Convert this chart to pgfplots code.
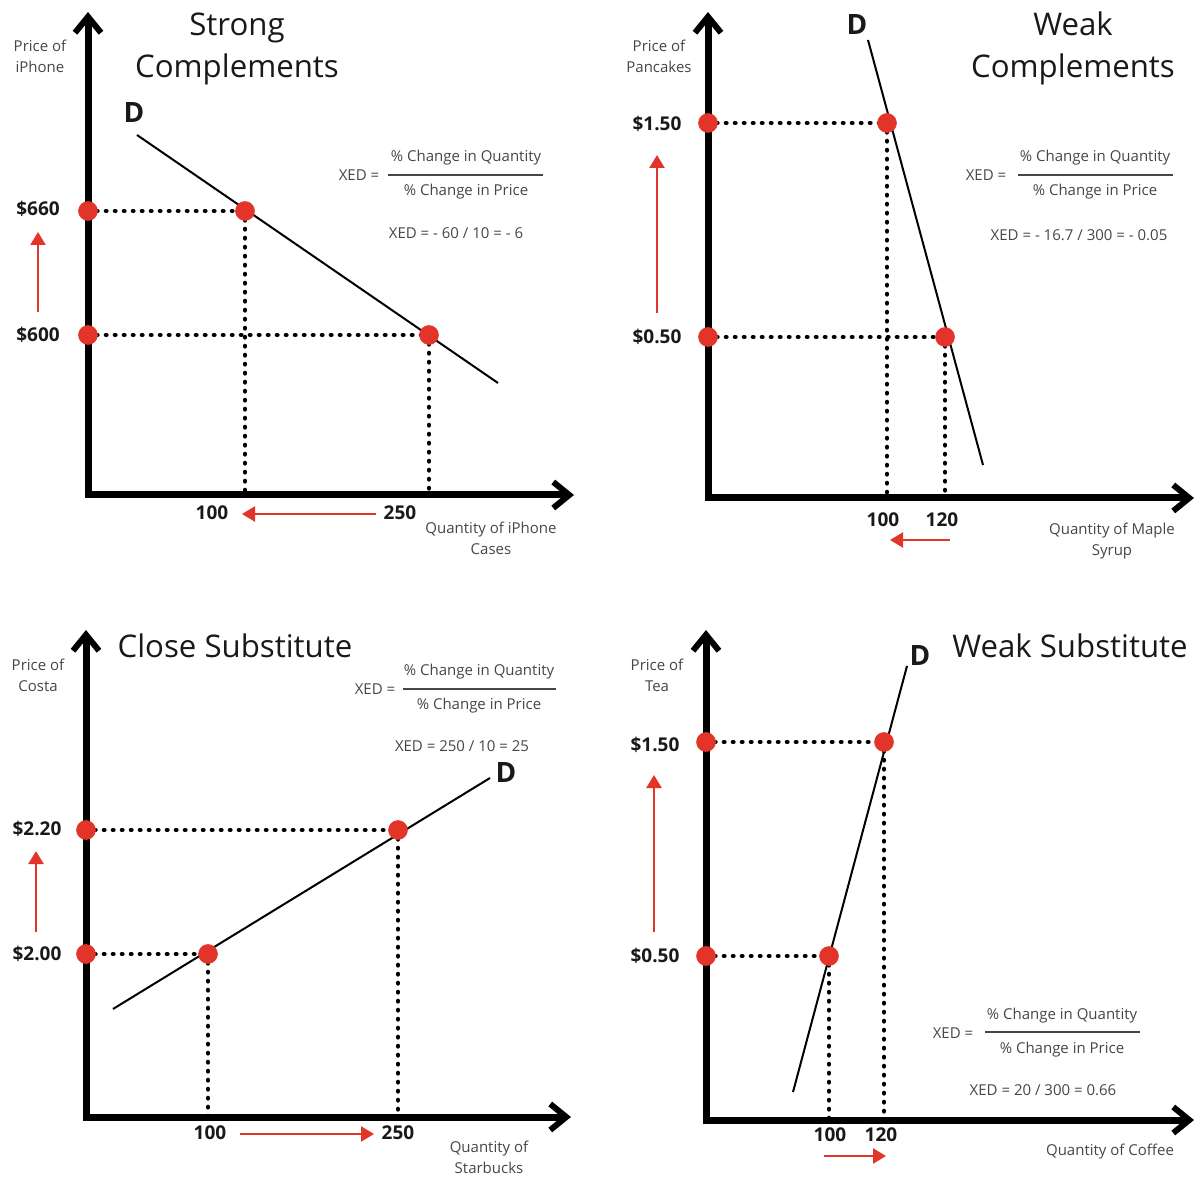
\documentclass[border=0pt]{standalone}
\usepackage{pgfplots}
\pgfplotsset{compat=1.18}
\usetikzlibrary{arrows.meta}
\usepackage{fontspec}
\setmainfont{Open Sans}
\definecolor{xred}{RGB}{227,52,42}
\definecolor{tgray}{RGB}{70,70,70}
\definecolor{tblack}{RGB}{25,25,25}
\newcommand\ttl{\fontsize{15.6}{21}\selectfont}
\newcommand\sm{\fontsize{7.5}{10.5}\selectfont}
\newcommand\lbl{\fontsize{9.5}{11}\selectfont\bfseries}
\newcommand\dfont{\fontsize{14}{16}\selectfont\bfseries}
\pgfplotsset{
 ax/.style={black, mark=none, line width=3.5pt, line join=miter,
   {Straight Barb[length=8pt,width=13pt,line width=3pt]}-{Straight Barb[length=8pt,width=13pt,line width=3pt]}},
 dots/.style={black, mark=none, line width=2.3pt, line cap=round, dash pattern=on 0.2pt off 4.3pt},
 dem/.style={black, mark=none, line width=1pt},
 frac/.style={tgray, mark=none, line width=0.8pt},
 rarr/.style={xred, mark=none, line width=1.2pt, -{Triangle[length=6.5pt,width=7.5pt]}},
 pts/.style={only marks, mark=*, mark size=4.7pt, color=xred, mark options={draw=xred, fill=xred}},
}
\begin{document}
\begin{tikzpicture}
\begin{axis}[
  scale only axis, width=602pt, height=589pt,
  xmin=0, xmax=1204, ymin=0, ymax=1178, y dir=reverse,
  hide axis, clip=false,
]
\addplot[draw=none, mark=none] coordinates {(0,0) (1204,1178)};

% ---------------- Panel 1: Strong Complements ----------------
\addplot[dots] coordinates {(88,211) (245,211)};
\addplot[dots] coordinates {(88,335) (429,335)};
\addplot[dots] coordinates {(245,211) (245,495)};
\addplot[dots] coordinates {(429,335) (429,495)};
\addplot[ax] coordinates {(88,12) (88,495) (574,495)};
\addplot[dem] coordinates {(137,135) (498,383)};
\addplot[pts] coordinates {(88,211) (245,211) (88,335) (429,335)};
\addplot[rarr] coordinates {(38,312) (38,232)};
\addplot[rarr] coordinates {(376,514) (242,514)};
\addplot[frac] coordinates {(388,175) (543,175)};
\node[font=\ttl, text=tblack, align=center] at (axis cs:237,49) {Strong\\Complements};
\node[font=\sm, text=tgray, align=center] at (axis cs:40,56) {Price of\\iPhone};
\node[font=\dfont, text=tblack] at (axis cs:134,113) {D};
\node[font=\lbl, text=tblack] at (axis cs:38,209) {\$660};
\node[font=\lbl, text=tblack] at (axis cs:38,335) {\$600};
\node[font=\lbl, text=tblack] at (axis cs:212,513) {100};
\node[font=\lbl, text=tblack] at (axis cs:400,513) {250};
\node[font=\sm, text=tgray, align=center] at (axis cs:491,538) {Quantity of iPhone\\Cases};
\node[font=\sm, text=tgray] at (axis cs:359,175) {XED =};
\node[font=\sm, text=tgray] at (axis cs:466,158) {\% Change in Quantity};
\node[font=\sm, text=tgray] at (axis cs:466,192) {\% Change in Price};
\node[font=\sm, text=tgray] at (axis cs:456,233) {XED = - 60 / 10 = - 6};

% ---------------- Panel 2: Weak Complements ----------------
\addplot[dots] coordinates {(708,123) (887,123)};
\addplot[dots] coordinates {(708,337) (945,337)};
\addplot[dots] coordinates {(887,123) (887,498)};
\addplot[dots] coordinates {(945,337) (945,498)};
\addplot[ax] coordinates {(708,12) (708,498) (1194,498)};
\addplot[dem] coordinates {(868,40) (983,465)};
\addplot[pts] coordinates {(708,123) (887,123) (708,337) (945,337)};
\addplot[rarr] coordinates {(657,313) (657,155)};
\addplot[rarr] coordinates {(950,540) (890,540)};
\addplot[frac] coordinates {(1018,175) (1173,175)};
\node[font=\ttl, text=tblack, align=center] at (axis cs:1073,48) {Weak\\Complements};
\node[font=\sm, text=tgray, align=center] at (axis cs:659,56) {Price of\\Pancakes};
\node[font=\dfont, text=tblack] at (axis cs:857,25) {D};
\node[font=\lbl, text=tblack] at (axis cs:657,124) {\$1.50};
\node[font=\lbl, text=tblack] at (axis cs:657,337) {\$0.50};
\node[font=\lbl, text=tblack] at (axis cs:883,520) {100};
\node[font=\lbl, text=tblack] at (axis cs:942,520) {120};
\node[font=\sm, text=tgray, align=center] at (axis cs:1112,541) {Quantity of Maple\\Syrup};
\node[font=\sm, text=tgray] at (axis cs:986,175) {XED =};
\node[font=\sm, text=tgray] at (axis cs:1095,158) {\% Change in Quantity};
\node[font=\sm, text=tgray] at (axis cs:1095,192) {\% Change in Price};
\node[font=\sm, text=tgray] at (axis cs:1079,235) {XED = - 16.7 / 300 = - 0.05};

% ---------------- Panel 3: Close Substitute ----------------
\addplot[dots] coordinates {(86,830) (398,830)};
\addplot[dots] coordinates {(86,954) (208,954)};
\addplot[dots] coordinates {(398,830) (398,1117)};
\addplot[dots] coordinates {(208,954) (208,1117)};
\addplot[ax] coordinates {(86,630) (86,1117) (571,1117)};
\addplot[dem] coordinates {(113,1009) (490,778)};
\addplot[pts] coordinates {(86,830) (398,830) (86,954) (208,954)};
\addplot[rarr] coordinates {(36,932) (36,851)};
\addplot[rarr] coordinates {(240,1134) (374,1134)};
\addplot[frac] coordinates {(403,689) (556,689)};
\node[font=\ttl, text=tblack] at (axis cs:235,646) {Close Substitute};
\node[font=\sm, text=tgray, align=center] at (axis cs:38,675) {Price of\\Costa};
\node[font=\sm, text=tgray] at (axis cs:375,689) {XED =};
\node[font=\sm, text=tgray] at (axis cs:479,672) {\% Change in Quantity};
\node[font=\sm, text=tgray] at (axis cs:479,706) {\% Change in Price};
\node[font=\sm, text=tgray] at (axis cs:462,746) {XED = 250 / 10 = 25};
\node[font=\dfont, text=tblack] at (axis cs:506,773) {D};
\node[font=\lbl, text=tblack] at (axis cs:37,829) {\$2.20};
\node[font=\lbl, text=tblack] at (axis cs:37,954) {\$2.00};
\node[font=\lbl, text=tblack] at (axis cs:210,1133) {100};
\node[font=\lbl, text=tblack] at (axis cs:398,1133) {250};
\node[font=\sm, text=tgray, align=center] at (axis cs:489,1157) {Quantity of\\Starbucks};

% ---------------- Panel 4: Weak Substitute ----------------
\addplot[dots] coordinates {(706,742) (884,742)};
\addplot[dots] coordinates {(706,956) (829,956)};
\addplot[dots] coordinates {(884,742) (884,1120)};
\addplot[dots] coordinates {(829,956) (829,1120)};
\addplot[ax] coordinates {(706,630) (706,1120) (1194,1120)};
\addplot[dem] coordinates {(907,666) (793,1092)};
\addplot[pts] coordinates {(706,742) (884,742) (706,956) (829,956)};
\addplot[rarr] coordinates {(654,932) (654,775)};
\addplot[rarr] coordinates {(824,1156) (886,1156)};
\addplot[frac] coordinates {(985,1032) (1140,1032)};
\node[font=\ttl, text=tblack] at (axis cs:1070,646) {Weak Substitute};
\node[font=\sm, text=tgray, align=center] at (axis cs:657,675) {Price of\\Tea};
\node[font=\dfont, text=tblack] at (axis cs:920,656) {D};
\node[font=\lbl, text=tblack] at (axis cs:655,745) {\$1.50};
\node[font=\lbl, text=tblack] at (axis cs:655,956) {\$0.50};
\node[font=\lbl, text=tblack] at (axis cs:830,1135) {100};
\node[font=\lbl, text=tblack] at (axis cs:881,1135) {120};
\node[font=\sm, text=tgray] at (axis cs:1110,1152) {Quantity of Coffee};
\node[font=\sm, text=tgray] at (axis cs:953,1033) {XED =};
\node[font=\sm, text=tgray] at (axis cs:1062,1016) {\% Change in Quantity};
\node[font=\sm, text=tgray] at (axis cs:1062,1050) {\% Change in Price};
\node[font=\sm, text=tgray] at (axis cs:1043,1090) {XED = 20 / 300 = 0.66};
\end{axis}
\end{tikzpicture}
\end{document}
